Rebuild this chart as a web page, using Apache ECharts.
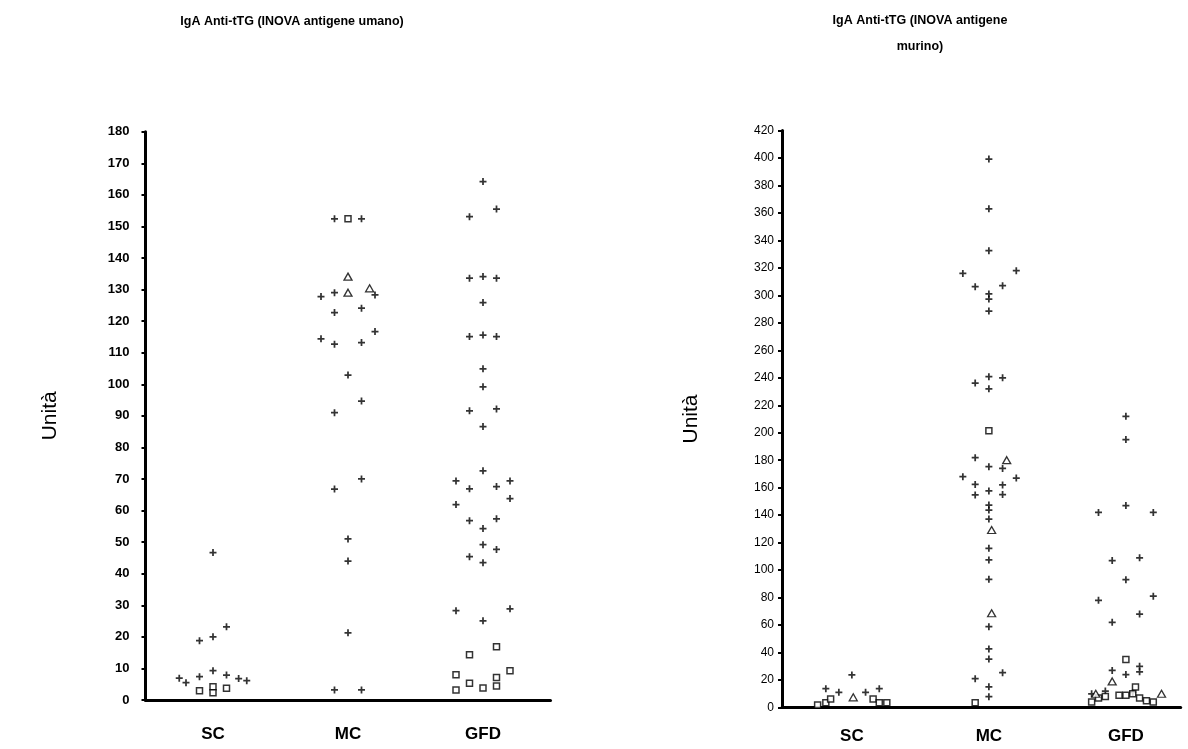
<!DOCTYPE html>
<html><head><meta charset="utf-8">
<script src="https://cdn.jsdelivr.net/npm/echarts@6/dist/echarts.min.js"></script>
<style>html,body{margin:0;padding:0;background:#fff}#c{width:1188px;height:749px}</style>
</head><body><div id="c"></div>
<script>
// Categories and tick labels
const categories = ['SC', 'MC', 'GFD'];
const humanTicks = [0, 180, 10];   // min, max, step
const murineTicks = [0, 420, 20];

// Points: [horizontal jitter within category, value]
// Left chart: IgA Anti-tTG (INOVA human antigen)
const humanSC_plus = [[-0.25,6.9],[-0.2,5.5],[-0.1,7.4],[-0.1,18.8],[0,46.7],[0,20.0],[0,9.3],[0.1,23.2],[0.1,7.9],[0.19,6.8],[0.25,6.1]];
const humanSC_square = [[-0.1,2.9],[0,4.2],[0,2.3],[0.1,3.7]];
const humanSC_triangle = [];
const humanMC_plus = [[-0.2,127.8],[-0.2,114.4],[-0.1,152.4],[-0.1,129.0],[-0.1,122.7],[-0.1,112.7],[-0.1,91.0],[-0.1,66.8],[-0.1,3.2],[0,102.9],[0,51.0],[0,44.0],[0,21.3],[0.1,152.4],[0.1,124.1],[0.1,113.2],[0.1,94.7],[0.1,70.0],[0.1,3.2],[0.2,128.3],[0.2,116.7]];
const humanMC_square = [[0,152.4]];
const humanMC_triangle = [[0,134.1],[0,129.0],[0.16,130.4]];
const humanGFD_plus = [[0,164.2],[0.1,155.5],[-0.1,153.1],[-0.1,133.6],[0,134.1],[0.1,133.6],[0,125.9],[-0.1,115.1],[0,115.6],[0.1,115.1],[0,104.9],[0,99.2],[-0.1,91.6],[0.1,92.2],[0,86.6],[0,72.6],[-0.2,69.4],[-0.1,66.9],[0.1,67.6],[0.2,69.4],[0.2,63.8],[-0.2,61.9],[-0.1,56.8],[0.1,57.4],[0,54.3],[0,49.2],[0.1,47.7],[-0.1,45.4],[0,43.5],[-0.2,28.3],[0.2,28.9],[0,25.1]];
const humanGFD_square = [[0.1,16.9],[-0.1,14.3],[-0.2,8.0],[0.2,9.3],[0.1,7.1],[-0.2,3.2],[-0.1,5.3],[0,3.8],[0.1,4.4]];
const humanGFD_triangle = [];

// Right chart: IgA Anti-tTG (INOVA murine antigen)
const murineSC_plus = [[-0.19,13.7],[-0.095,11.1],[0,23.7],[0.1,11.1],[0.2,13.7]];
const murineSC_square = [[-0.25,1.8],[-0.19,3.5],[-0.155,6.2],[0.155,6.2],[0.2,3.5],[0.255,3.5]];
const murineSC_triangle = [[0.01,7.4]];
const murineMC_plus = [[0,399.2],[0,363],[0,332.5],[-0.19,316],[0.2,318],[-0.1,306.3],[0.1,307],[0,301],[0,297.3],[0,288.6],[0,240.8],[-0.1,236.2],[0.1,240],[0,232],[-0.1,181.8],[0,175.3],[0.1,174],[-0.19,168],[0.2,167],[-0.1,162.4],[0.1,162],[-0.1,154.7],[0.1,155],[0,157.6],[0,147.4],[0,143.7],[0,137.2],[0,115.9],[0,107.4],[0,93.3],[0,58.8],[0,42.6],[0,35.3],[-0.1,21.0],[0.1,25.3],[0,15.1],[0,7.9]];
const murineMC_square = [[0,201.5],[-0.1,3.5]];
const murineMC_triangle = [[0.02,129.2],[0.02,68.6],[0.13,180]];
const murineGFD_plus = [[0,212],[0,195],[-0.2,142],[0,147],[0.2,142],[-0.1,107],[0.1,109],[0,93],[-0.2,78],[0.2,81],[0.1,68],[-0.1,62],[0.1,30],[0.1,26],[-0.1,27],[0,24],[-0.25,10],[-0.15,12],[0.05,11]];
const murineGFD_square = [[0,35],[0.07,15],[-0.25,4],[-0.2,7],[-0.15,8],[-0.05,9],[0,9],[0.05,10],[0.1,7],[0.15,5],[0.2,4]];
const murineGFD_triangle = [[-0.1,19],[-0.22,10],[0.26,10]];

function place(groups) {
  const out = [];
  groups.forEach((g, i) => g.forEach(p => out.push([i + 1 + p[0], p[1]])));
  return out;
}

const PLUS = 'path://M3,0 L5,0 L5,3 L8,3 L8,5 L5,5 L5,8 L3,8 L3,5 L0,5 L0,3 L3,3 Z';
const TRI = 'path://M5,0 L10,9 L0,9 Z';
const FONT = '"Liberation Sans", Arial, sans-serif';

function markerSeries(xi, plus, square, tri) {
  return [
    {type:'scatter', xAxisIndex:xi, yAxisIndex:xi, symbol:PLUS, symbolSize:7, data:place(plus),
     itemStyle:{color:'#000'}, silent:true, z:3},
    {type:'scatter', xAxisIndex:xi, yAxisIndex:xi, symbol:'rect', symbolSize:6, data:place(square),
     itemStyle:{color:'#fff', borderColor:'#000', borderWidth:1.5}, silent:true, z:4},
    {type:'scatter', xAxisIndex:xi, yAxisIndex:xi, symbol:TRI, symbolSize:[8,7], data:place(tri),
     itemStyle:{color:'#fff', borderColor:'#000', borderWidth:1.3}, silent:true, z:4}
  ];
}

function xAxisDef(gi, min, max, fontSize, margin) {
  return {
    type:'value', gridIndex:gi, min:min, max:max,
    axisLine:{show:true, lineStyle:{color:'#000', width:3}},
    axisTick:{show:false}, splitLine:{show:false},
    axisLabel:{customValues:[1,2,3], formatter:v => categories[Math.round(v)-1] || '',
      color:'#000', fontFamily:FONT, fontWeight:'bold', fontSize:fontSize, margin:margin}
  };
}
function yAxisDef(gi, t, bold, fs, gap, margin) {
  return {
    type:'value', gridIndex:gi, min:t[0], max:t[1], interval:t[2],
    name:'Unità', nameLocation:'middle', nameGap:gap, nameRotate:90,
    nameTextStyle:{color:'#000', fontFamily:FONT, fontSize:21},
    axisLine:{show:true, lineStyle:{color:'#000', width:3}},
    axisTick:{show:true, length:4, lineStyle:{color:'#000', width:2}},
    splitLine:{show:false},
    axisLabel:{color:'#000', fontFamily:FONT, fontWeight:bold?'bold':'normal', fontSize:fs, margin:margin}
  };
}

const chart = echarts.init(document.getElementById('c'), null, {renderer:'canvas'});
chart.setOption({
  animation:false,
  backgroundColor:'#fff',
  title:[
    {text:'IgA Anti-tTG (INOVA antigene umano)', left:287, top:10, textAlign:'center',
     textStyle:{fontFamily:FONT, fontWeight:'bold', fontSize:12.5, color:'#000'}},
    {text:'IgA Anti-tTG (INOVA antigene\nmurino)', left:915, top:3, textAlign:'center',
     textStyle:{fontFamily:FONT, fontWeight:'bold', fontSize:12.5, color:'#000', lineHeight:26, align:'center'}}
  ],
  grid:[
    {left:145.5, top:131.7, width:405, height:568.3, containLabel:false},
    {left:782, top:130.5, width:398.7, height:577, containLabel:false}
  ],
  xAxis:[ xAxisDef(0, 0.5, 3.5, 17, 26), xAxisDef(1, 0.49, 3.4, 17, 20) ],
  yAxis:[ yAxisDef(0, humanTicks, true, 13, 85, 16), yAxisDef(1, murineTicks, false, 12, 80, 8) ],
  series:[
    ...markerSeries(0, [humanSC_plus, humanMC_plus, humanGFD_plus], [humanSC_square, humanMC_square, humanGFD_square], [humanSC_triangle, humanMC_triangle, humanGFD_triangle]),
    ...markerSeries(1, [murineSC_plus, murineMC_plus, murineGFD_plus], [murineSC_square, murineMC_square, murineGFD_square], [murineSC_triangle, murineMC_triangle, murineGFD_triangle])
  ]
});
</script></body></html>
